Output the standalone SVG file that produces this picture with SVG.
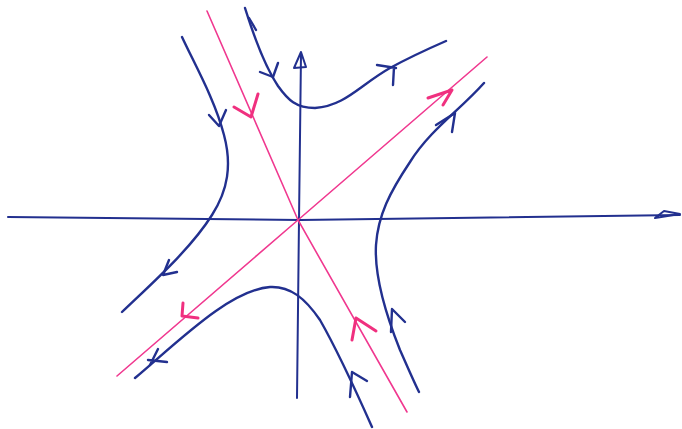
<svg xmlns="http://www.w3.org/2000/svg" width="682" height="429" viewBox="0 0 682 429">
<style>
.b{fill:none;stroke:#22308f;stroke-width:2.4;stroke-linecap:round;stroke-linejoin:round}
.ax{fill:none;stroke:#22308f;stroke-width:2;stroke-linecap:round;stroke-linejoin:round}
.p{fill:none;stroke:#f0388f;stroke-width:1.6;stroke-linecap:round}
.pa{fill:none;stroke:#f0307f;stroke-width:3;stroke-linecap:round;stroke-linejoin:round}
</style>
<rect width="682" height="429" fill="#ffffff"/>
<g id="axes">
  <path class="ax" d="M8,217 L300,220 L680,215"/>
  <path class="ax" d="M655,218 L664,211 L680,214 Z"/>
  <path class="ax" d="M297,398 L299,220 L301,54"/>
  <path class="ax" d="M301,52 L294,68 L306,67 Z" fill="#22308f"/>
</g>
<g id="eigenlines">
  <path class="p" d="M207,11 L298,220 L407,412"/>
  <path class="p" d="M487,57 L298,220 L117,376"/>
  <path class="pa" d="M234,107 L251,117 L258,94"/>
  <path class="pa" d="M352,340 L356,318 L376,331"/>
  <path class="pa" d="M428,98 L452,90 L443,105"/>
  <path class="pa" d="M183,303 L182,316 L198,318"/>
</g>
<g id="trajectories">
  <path class="b" d="M182,37 C195,65 215,100 224,135 C232,165 228,190 212,215 C190,250 150,285 122,312"/>
  <path class="b" d="M209,115 L219,126 L226,110"/>
  <path class="b" d="M169,260 L163,275 L177,272"/>
  <path class="b" d="M245,8 C255,40 266,68 278,86 C288,100 296,108 315,108 C345,106 360,85 390,68 C410,57 430,48 446,41"/>
  <path class="b" d="M249,18 L256,30" stroke-width="3.5"/>
  <path class="b" d="M260,72 L273,77 L278,63"/>
  <path class="b" d="M377,65 L396,68 M393,85 L394,67"/>
  <path class="b" d="M484,83 C460,110 430,130 410,162 C390,192 378,215 376,245 C374,280 388,320 400,350 C408,368 414,382 419,392"/>
  <path class="b" d="M436,125 L455,113 L452,132"/>
  <path class="b" d="M391,332 L392,309 L405,322"/>
  <path class="b" d="M135,378 C180,340 230,290 270,287 C290,286 305,298 320,320 C340,355 360,400 372,427"/>
  <path class="b" d="M350,397 L352,372 L367,381"/>
  <path class="b" d="M158,349 L150,365 M167,362 L148,360" stroke-width="3"/>
</g>
</svg>
